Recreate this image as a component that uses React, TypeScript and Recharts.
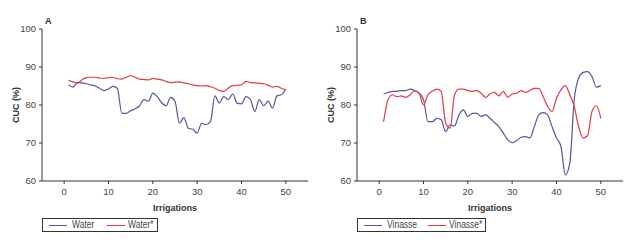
import { Label, Line, LineChart, XAxis, YAxis } from "recharts"

const irrigations = Array.from({ length: 50 }, (_, i) => i + 1)

const water = [
  85.3, 84.7, 85.9, 85.8, 85.6, 85.3, 85.0, 84.4, 83.8, 84.2,
  84.9, 84.4, 77.8, 77.8, 78.5, 79.0, 79.8, 81.4, 81.0, 83.1,
  82.2, 80.6, 79.8, 82.0, 81.0, 75.2, 76.7, 73.9, 73.6, 72.6,
  75.2, 74.8, 75.6, 82.4, 80.5, 82.2, 81.4, 82.9, 80.5, 80.3,
  82.2, 81.5, 78.3, 81.4, 79.8, 81.0, 79.2, 82.4, 82.7, 84.2,
]
const waterStar = [
  86.5, 86.1, 85.8, 86.6, 87.2, 87.3, 87.3, 87.1, 87.0, 87.2,
  87.3, 86.9, 86.8, 87.3, 87.7, 87.3, 86.8, 86.7, 86.6, 87.0,
  86.8, 86.6, 86.2, 85.9, 86.0, 86.1, 85.8, 85.6, 85.3, 85.1,
  85.0, 85.1, 84.8, 84.4, 83.8, 83.6, 84.4, 85.1, 85.2, 85.3,
  86.2, 85.9, 85.8, 85.7, 85.6, 85.2, 84.7, 84.9, 84.4, 84.0,
]
const vinasse = [
  82.9, 83.3, 83.6, 83.6, 83.8, 83.8, 84.2, 83.8, 83.1, 81.4,
  75.6, 75.6, 76.5, 76.1, 73.0, 74.8, 74.5, 77.4, 78.7, 77.0,
  77.8, 77.8, 77.0, 77.4, 76.5, 75.4, 74.3, 72.6, 70.8, 70.1,
  70.6, 71.5, 71.7, 71.3, 74.3, 77.4, 78.0, 77.4, 74.3, 71.3,
  69.1, 61.6, 64.7, 81.4, 87.1, 88.6, 88.8, 87.5, 84.7, 85.1,
]
const vinasseStar = [
  75.6, 81.4, 82.7, 82.2, 82.4, 82.0, 82.7, 83.8, 83.1, 80.0,
  82.7, 83.6, 84.2, 83.6, 75.2, 73.9, 82.7, 84.2, 84.2, 83.8,
  83.6, 83.8, 83.1, 82.0, 82.9, 83.3, 82.4, 83.6, 82.0, 82.9,
  83.1, 83.8, 83.3, 83.8, 84.4, 84.4, 82.2, 79.6, 78.3, 81.8,
  84.0, 85.1, 82.7, 79.6, 74.3, 71.3, 71.9, 78.3, 79.8, 76.5,
]

const xTicks = [0, 10, 20, 30, 40, 50]
const yTicks = [60, 70, 80, 90, 100]

const BLUE = "#52579a"
const RED = "#e23a44"
const FONT = "'Liberation Sans Narrow', 'Arial Narrow', 'Liberation Sans', Arial, sans-serif"
const tick = { fill: "#444", fontSize: 9.5, fontFamily: FONT }
const axisLine = { stroke: "#333" }
const labelStyle = { fill: "#333", fontSize: 9, fontWeight: 700, fontFamily: FONT }

function Panel(props: {
  letter: string
  left: number
  width: number
  right: number
  a: number[]
  b: number[]
  nameA: string
  nameB: string
  legendWidth: number
  nameBx: number
  redX: number
}) {
  const data = irrigations.map((x, i) => ({ x, a: props.a[i], b: props.b[i] }))
  const item = {
    position: "absolute" as const,
    top: 0,
    lineHeight: "12px",
    whiteSpace: "nowrap" as const,
    transform: "scaleX(0.85)",
    transformOrigin: "left center",
  }
  const swatch = { position: "absolute" as const, top: 6, height: 1, width: 18 }
  return (
    <div style={{ position: "absolute", left: props.left, top: 0, width: props.width, height: 242 }}>
      <LineChart
        width={props.width}
        height={242}
        data={data}
        margin={{ top: 29, right: props.right, bottom: 31, left: 0 }}
      >
        <XAxis
          dataKey="x"
          type="number"
          domain={[-5, 55]}
          ticks={xTicks}
          height={30}
          tickSize={3}
          tickMargin={4}
          tick={tick}
          axisLine={axisLine}
          tickLine={axisLine}
        >
          <Label value="Irrigations" position="insideBottom" offset={0} style={labelStyle} />
        </XAxis>
        <YAxis
          domain={[60, 100]}
          ticks={yTicks}
          width={42}
          tickSize={3}
          tickMargin={3}
          tick={tick}
          axisLine={axisLine}
          tickLine={axisLine}
        >
          <Label value="CUC (%)" position="center" angle={-90} dx={-5} style={labelStyle} />
        </YAxis>
        <Line type="monotone" dataKey="a" stroke={BLUE} strokeWidth={1.2} dot={false} isAnimationActive={false} />
        <Line type="monotone" dataKey="b" stroke={RED} strokeWidth={1.2} dot={false} isAnimationActive={false} />
      </LineChart>
      <div
        style={{
          position: "absolute",
          left: 45,
          top: 16,
          fontFamily: FONT,
          fontSize: 9,
          fontWeight: 700,
          color: "#333",
        }}
      >
        {props.letter}
      </div>
      <div
        style={{
          position: "absolute",
          left: 42,
          top: 218,
          width: props.legendWidth,
          height: 14,
          boxSizing: "border-box",
          border: "1px solid #333",
          fontFamily: FONT,
          fontSize: 10,
          color: "#444",
        }}
      >
        <div style={{ ...swatch, left: 6, background: BLUE }} />
        <span style={{ ...item, left: 29 }}>{props.nameA}</span>
        <div style={{ ...swatch, left: props.redX, background: RED }} />
        <span style={{ ...item, left: props.nameBx }}>{props.nameB}</span>
      </div>
    </div>
  )
}

export default function App() {
  return (
    <div style={{ position: "absolute", left: 0, top: 0, width: 624, height: 242, background: "#fff" }}>
      <Panel
        letter="A"
        left={0}
        width={312}
        right={4}
        a={water}
        b={waterStar}
        nameA="Water"
        nameB="Water*"
        legendWidth={116}
        redX={64}
        nameBx={85}
      />
      <Panel
        letter="B"
        left={315}
        width={309}
        right={1}
        a={vinasse}
        b={vinasseStar}
        nameA="Vinasse"
        nameB="Vinasse*"
        legendWidth={129}
        redX={70}
        nameBx={91}
      />
    </div>
  )
}
